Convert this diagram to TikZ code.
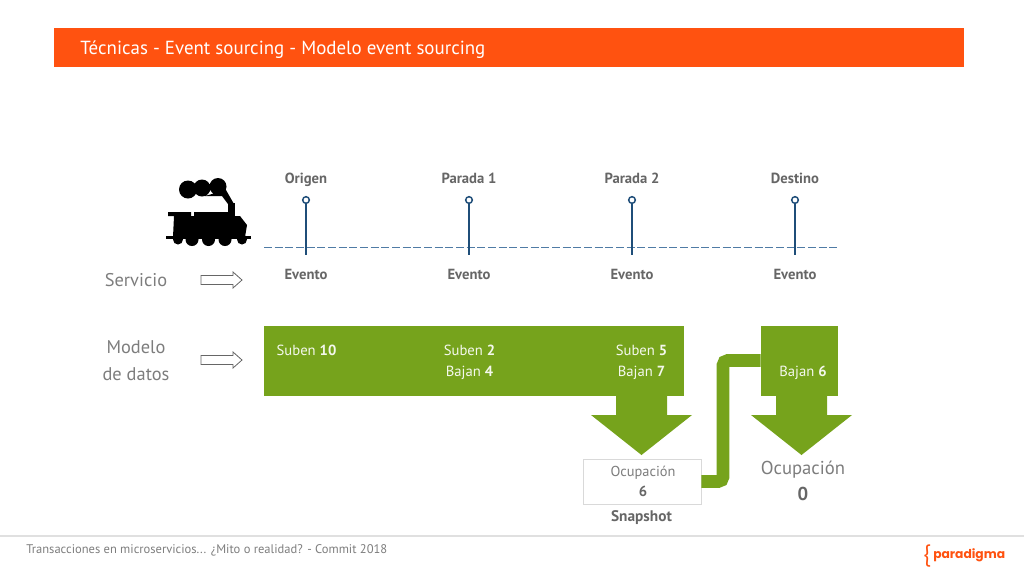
\documentclass[tikz,border=0pt]{standalone}
\usepackage{fontspec}
\setmainfont{PT Sans}
\newfontfamily\logofont{Poppins}
\usetikzlibrary{positioning, arrows.meta, calc}
\definecolor{naranja}{HTML}{FF5210}
\definecolor{verde}{HTML}{76A31C}
\definecolor{gristexto}{HTML}{666666}
\definecolor{azulparada}{HTML}{1F4E79}
\definecolor{azuldash}{HTML}{4F7BA5}

\begin{document}
\begin{tikzpicture}[
  x=0.75pt, y=-0.75pt,
  header/.style={fill=naranja, minimum width=682.5pt, minimum height=29.5pt, inner sep=0pt},
  titulo/.style={font=\fontsize{14.2}{18}\selectfont, text=white, anchor=west, inner sep=0pt},
  parada/.style={circle, draw=azulparada, line width=1.1pt, fill=white, minimum size=5pt, inner sep=0pt},
  bold/.style={font=\fontsize{11}{13}\selectfont\bfseries, text=gristexto, inner sep=0pt},
  fila/.style={font=\fontsize{13.8}{20.2}\selectfont, text=gristexto!85, align=center, inner sep=0pt},
  bloque/.style={fill=verde, minimum height=52.5pt, inner sep=0pt},
  dentro/.style={font=\fontsize{11}{15.75}\selectfont, text=white!92!verde, inner sep=0pt},
  flecha/.style={fill=verde},
  hueco/.style={draw=gristexto, line width=0.6pt, fill=white},
  tubo/.style={draw=verde, line width=9.5pt, rounded corners=3.5pt},
  snapbox/.style={draw=black!15, line width=0.7pt, fill=white, minimum width=88.5pt, minimum height=33.7pt, inner sep=0pt},
  pie/.style={font=\fontsize{9.4}{12}\selectfont, text=gristexto!85, anchor=west, inner sep=0pt},
]
\useasboundingbox (0,0) rectangle (1024,576);

% ===== HEADER =====
\node[header] (cabecera) at (509,47.3) {};
\node[titulo] (titulotxt) at (80,49.5) {Técnicas - Event sourcing - Modelo event sourcing};

% ===== TRAIN =====
\fill (188,189.5) circle (9) (202,188) circle (8.5) (218,186.5) circle (8.5)
  (205,196) -- (226,190) -- (234,204) -- (228,204) -- (222,196) -- cycle;
\fill (228,203) rectangle (235,216);
\fill (168,212) rectangle (191,216) (194,212) rectangle (228,216);
\fill (174,216) -- (240,216) -- (247,225) -- (245,237) -- (173,237) -- cycle;
\fill (166,236) rectangle (251,238.5);
\foreach \wx/\wr in {178/5, 192/6.5, 208.5/6.5, 225/6.5, 242/5} {
  \fill (\wx,239.5) circle (\wr);
}

% ===== STOPS =====
\node[parada] (p1) at (306,200) {};
\node[parada, right=122.25pt of p1.center, anchor=center] (p2) {};
\node[parada, right=122.25pt of p2.center, anchor=center] (p3) {};
\node[parada, right=122.25pt of p3.center, anchor=center] (p4) {};

\coordinate (vStart) at (264,247.5);
\coordinate (vEnd) at (838,247.5);
\draw[azuldash, line width=1.1pt, dash pattern=on 6pt off 2pt] (vStart) -- (vEnd);

\node[bold, above=12.5pt of p1.center, anchor=base] (l1) {Origen};
\node[bold, above=12.5pt of p2.center, anchor=base] (l2) {Parada 1};
\node[bold, above=12.5pt of p3.center, anchor=base] (l3) {Parada 2};
\node[bold, above=12.5pt of p4.center, anchor=base] (l4) {Destino};

\foreach \n in {1,...,4} {
  \coordinate (s\n) at ($(p\n.center)+(0,54.5)$);
  \draw[azulparada, line width=1.1pt] (p\n) -- (s\n);
  \node[bold, below=18.5pt of s\n, anchor=base] (e\n) {Evento};
}

% ===== LEFT LABELS =====
\node[fila] (servicio) at (136,280) {Servicio};
\node[fila] (modelo) at (136,360.5) {Modelo\\de datos};

\foreach \ay in {280,360} {
  \draw[hueco] (201,\ay-4.5) -- (233,\ay-4.5) -- (233,\ay-8) -- (242,\ay) -- (233,\ay+8) -- (233,\ay+4.5) -- (201,\ay+4.5) -- cycle;
}

% ===== DATA MODEL BLOCKS =====
\node[bloque, minimum width=315pt] (modelobox) at (474,360.5) {};
\node[bloque, minimum width=57.75pt] (destinobox) at (799.5,360.5) {};

\node[dentro] (d1) at (306.5,350) {Suben \textbf{10}};
\node[dentro] (d2) at (469.5,350) {Suben \textbf{2}};
\node[dentro] (d2b) at (469.5,372.5) {Bajan \textbf{4}};
\node[dentro] (d3) at (641.5,350) {Suben \textbf{5}};
\node[dentro] (d3b) at (641.5,372.5) {Bajan \textbf{7}};
\node[dentro] (d4) at (803,372.5) {Bajan \textbf{6}};

% ===== BIG ARROWS =====
\foreach \cx in {641.5,801.5} {
  \fill[flecha] (\cx-25.5,396) -- (\cx+25.5,396) -- (\cx+25.5,415) -- (\cx+50.5,415) -- (\cx,455) -- (\cx-50.5,415) -- (\cx-25.5,415) -- cycle;
}

% ===== SNAPSHOT =====
\node[snapbox] (snap) at (642,481.5) {};
\coordinate (codo) at (723,420);
\draw[tubo] (snap.east) -| (codo) |- (destinobox.west);

\node[font=\fontsize{10.8}{14}\selectfont, text=gristexto!85, inner sep=0pt] (ocu1) at (643,472.5) {Ocupación};
\node[bold] (n6) at (643,491) {6};
\node[bold, font=\fontsize{11.5}{13}\selectfont\bfseries] (snaptxt) at (641.5,517.5) {Snapshot};

\node[font=\fontsize{14}{18}\selectfont, text=gristexto!85, inner sep=0pt] (ocu2) at (803,470) {Ocupación};
\node[font=\fontsize{14}{18}\selectfont\bfseries, text=gristexto, inner sep=0pt] (n0) at (803,494) {0};

% ===== FOOTER =====
\coordinate (pieA) at (0,536);
\coordinate (pieB) at (1024,536);
\draw[black!12, line width=1pt] (pieA) -- (pieB);
\node[pie] (pietxt) at (26,550) {Transacciones en microservicios... ¿Mito o realidad? - Commit 2018};
\node[font=\fontsize{15}{18}\selectfont\logofont, text=naranja, inner sep=0pt] (llave) at (927,556) {\{};
\node[font=\fontsize{9.2}{14}\selectfont\logofont\bfseries, text=naranja, inner sep=0pt, anchor=west] (logo) at (933,555) {paradigma};

\end{tikzpicture}
\end{document}
